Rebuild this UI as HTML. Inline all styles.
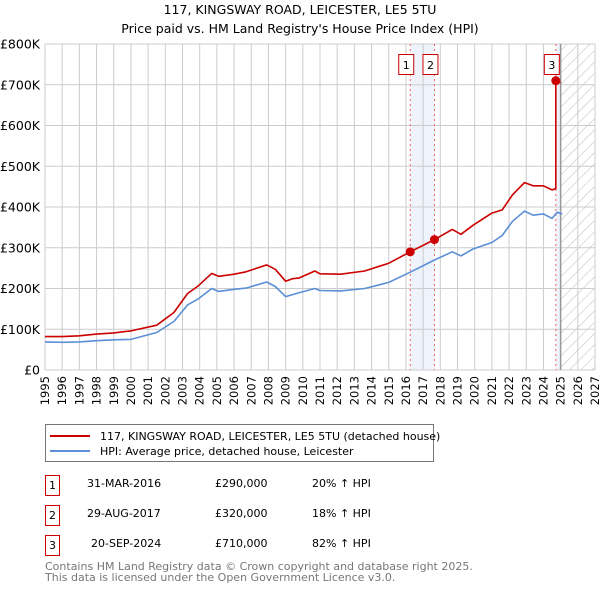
<!DOCTYPE html>
<html><head><meta charset="utf-8"><style>
body{margin:0;background:#fff;font-family:"Liberation Sans","DejaVu Sans",sans-serif;}
svg text{font-family:"DejaVu Sans","Liberation Sans",sans-serif;}
</style></head><body>
<svg id="chart" width="600" height="590" viewBox="0 0 600 590" xmlns="http://www.w3.org/2000/svg">
<defs>
<pattern id="hatch" patternUnits="userSpaceOnUse" width="8" height="8" patternTransform="rotate(45)">
<line x1="0" y1="0" x2="0" y2="8" stroke="#bbb" stroke-width="1"/>
</pattern>
</defs>
<text x="300" y="14" text-anchor="middle" font-size="12.5">117, KINGSWAY ROAD, LEICESTER, LE5 5TU</text>
<text x="300" y="33" text-anchor="middle" font-size="12.5">Price paid vs. HM Land Registry's House Price Index (HPI)</text>
<g id="bg"></g>
<g id="grid"></g>
<g id="series"></g>
<g id="marks"></g>
<g id="axes"></g>

<g>
<rect x="45.5" y="424.5" width="388" height="37" fill="#fff" stroke="#777"/>
<line x1="50" y1="436" x2="90" y2="436" stroke="#cc0000" stroke-width="2"/>
<text x="100" y="440" font-size="11">117, KINGSWAY ROAD, LEICESTER, LE5 5TU (detached house)</text>
<line x1="50" y1="451" x2="90" y2="451" stroke="#5b8fd6" stroke-width="2"/>
<text x="100" y="455" font-size="11">HPI: Average price, detached house, Leicester</text>
</g>

<g font-size="11">
<rect x="45.5" y="475.5" width="14" height="20" fill="#fff" stroke="#cc0000"/><text x="52.5" y="489" text-anchor="middle">1</text>
<text x="87" y="487">31-MAR-2016</text><text x="215" y="487">£290,000</text><text x="312" y="487">20% ↑ HPI</text>
<rect x="45.5" y="505.5" width="14" height="20" fill="#fff" stroke="#cc0000"/><text x="52.5" y="519" text-anchor="middle">2</text>
<text x="87" y="517">29-AUG-2017</text><text x="215" y="517">£320,000</text><text x="312" y="517">18% ↑ HPI</text>
<rect x="45.5" y="535.5" width="14" height="20" fill="#fff" stroke="#cc0000"/><text x="52.5" y="549" text-anchor="middle">3</text>
<text x="91" y="547">20-SEP-2024</text><text x="215" y="547">£710,000</text><text x="312" y="547">82% ↑ HPI</text>
</g>
<text x="45" y="570" font-size="11" fill="#777">Contains HM Land Registry data © Crown copyright and database right 2025.</text>
<text x="45" y="581" font-size="11" fill="#777">This data is licensed under the Open Government Licence v3.0.</text>
</svg>
<script>
const hpiDates=[1995,1996,1997,1998,1999,2000,2001.5,2002.5,2003.3,2003.9,2004.7,2005.1,2006.0,2006.7,2007.9,2008.4,2009.0,2009.4,2009.8,2010.7,2011.0,2012.2,2013.6,2015.0,2016.25,2017.66,2018.7,2019.2,2019.9,2021.0,2021.6,2022.2,2022.9,2023.4,2024.0,2024.5,2024.8,2025.1];
const hpiValues=[69,68,69,72,74,75,92,119,160,174,200,193,198,201,216,205,180,185,190,200,195,194,200,215,240,270,290,280,297,313,330,365,390,380,383,372,387,383];
const priceDates=[1995,1996,1997,1998,1999,2000,2001.5,2002.5,2003.3,2003.9,2004.7,2005.1,2006.0,2006.7,2007.9,2008.4,2009.0,2009.4,2009.8,2010.7,2011.0,2012.2,2013.6,2015.0,2016.25,2017.66,2018.7,2019.2,2019.9,2021.0,2021.6,2022.2,2022.9,2023.4,2024.0,2024.5,2024.72,2024.72,2025.0];
const priceValues=[82,82,84,88,91,96,110,141,188,206,237,230,235,241,258,247,218,224,226,243,236,235,243,262,290,320,345,333,355,385,393,430,460,452,452,442,445,710,705];
const saleDates=[2016.25,2017.66,2024.72];
const saleValues=[290,320,710];
const saleLabels=["1","2","3"];
const yTicks=[0,100,200,300,400,500,600,700,800];
const yTickLabels=["£0","£100K","£200K","£300K","£400K","£500K","£600K","£700K","£800K"];
const xTicks=[1995,1996,1997,1998,1999,2000,2001,2002,2003,2004,2005,2006,2007,2008,2009,2010,2011,2012,2013,2014,2015,2016,2017,2018,2019,2020,2021,2022,2023,2024,2025,2026,2027];

const X0=45,X1=595,Y0=370,Y1=44,XMIN=1995,XMAX=2027,YMAX=800,FUTURE=2025;
const sx=v=>X0+(v-XMIN)/(XMAX-XMIN)*(X1-X0);
const sy=v=>Y0-v/YMAX*(Y0-Y1);
const NS="http://www.w3.org/2000/svg";
function mk(tag,attrs,parent){const e=document.createElementNS(NS,tag);for(const k in attrs)e.setAttribute(k,attrs[k]);parent.appendChild(e);return e;}
const bg=document.getElementById('bg'),grid=document.getElementById('grid'),series=document.getElementById('series'),marks=document.getElementById('marks'),axes=document.getElementById('axes');

let b1=mk('rect',{x:sx(saleDates[0]),y:Y1,width:sx(saleDates[1])-sx(saleDates[0]),height:Y0-Y1,fill:'#eef3fc'},bg);


let b3=mk('rect',{x:sx(saleDates[2]),y:Y1,width:sx(FUTURE)-sx(saleDates[2]),height:Y0-Y1,fill:'#eef3fc'},bg);


let hz=mk('rect',{x:sx(FUTURE),y:Y1,width:X1-sx(FUTURE),height:Y0-Y1,fill:'url(#hatch)'},bg);



xTicks.forEach(t=>{const l=mk('line',{x1:sx(t),x2:sx(t),y1:Y1,y2:Y0,stroke:'#ccc','stroke-width':1},grid);


const tx=mk('text',{x:0,y:0,'font-size':11.5,'text-anchor':'end',transform:`translate(${sx(t)+4},${Y0+6}) rotate(-90)`},axes);
tx.textContent=t;

});
yTicks.forEach((t,i)=>{const l=mk('line',{x1:X0,x2:X1,y1:sy(t),y2:sy(t),stroke:'#ccc','stroke-width':1},grid);


const tx=mk('text',{x:40,y:sy(t)+4.5,'font-size':12.5,'text-anchor':'end'},axes);
tx.textContent=yTickLabels[i];

});
let fl=mk('line',{x1:sx(FUTURE),x2:sx(FUTURE),y1:Y1,y2:Y0,stroke:'#999','stroke-width':1.5},grid);



saleDates.forEach((d,i)=>{const l=mk('line',{x1:sx(d),x2:sx(d),y1:Y1,y2:Y0,stroke:'#f06060','stroke-width':1,'stroke-dasharray':'2,3'},grid);

});

const pts=(ds,vs)=>ds.map((d,i)=>sx(d).toFixed(1)+','+sy(vs[i]).toFixed(1)).join(' ');
let hp=mk('polyline',{points:pts(hpiDates,hpiValues),fill:'none',stroke:'#5b8fd6','stroke-width':1.6,'stroke-linejoin':'round'},series);


let pp=mk('polyline',{points:pts(priceDates,priceValues),fill:'none',stroke:'#cc0000','stroke-width':1.6,'stroke-linejoin':'round'},series);



saleDates.forEach((d,i)=>{const c=mk('circle',{cx:sx(d),cy:sy(saleValues[i]),r:4.5,fill:'#cc0000'},marks);


const g=mk('g',{},marks);


mk('rect',{x:sx(d)-11.5,y:54.5,width:15,height:20,fill:'#fff',stroke:'#cc0000'},g);
const t=mk('text',{x:sx(d)-4,y:69,'font-size':11,'text-anchor':'middle'},g);t.textContent=saleLabels[i];});
</script>
</body></html>
